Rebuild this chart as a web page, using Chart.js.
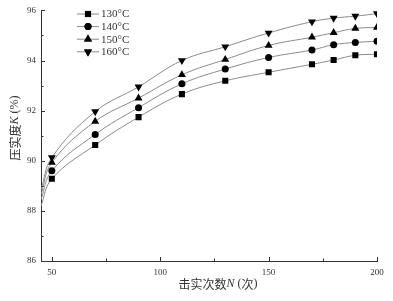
<!DOCTYPE html>
<html>
<head>
<meta charset="utf-8">
<script src="https://cdn.jsdelivr.net/npm/chart.js@4/dist/chart.umd.min.js"></script>
<style>
html,body{margin:0;padding:0;background:#fff;}
#wrap{width:393px;height:301px;}
</style>
</head>
<body>
<div id="wrap"><canvas id="c" width="393" height="301"></canvas></div>
<script>
// ---- data ----
const blows = [50, 70, 90, 110, 130, 150, 170, 180, 190, 200];
const k130 = [89.28, 90.63, 91.74, 92.66, 93.19, 93.53, 93.85, 94.02, 94.21, 94.25];
const k140 = [89.60, 91.05, 92.12, 93.07, 93.66, 94.12, 94.42, 94.63, 94.72, 94.77];
const k150 = [89.93, 91.57, 92.50, 93.43, 94.04, 94.60, 94.93, 95.11, 95.28, 95.32];
const k160 = [90.13, 91.96, 92.95, 94.00, 94.55, 95.10, 95.55, 95.69, 95.77, 95.87];
const seriesNames = ['130°C', '140°C', '150°C', '160°C'];
// fitted curves start at the left edge of the axis
const fitStartX = 45;
const fitStart = [88.2, 88.45, 88.65, 88.85];
const xTicks = [50, 100, 150, 200];
const xMinorTicks = [75, 125, 175];
const yTicks = [86, 88, 90, 92, 94, 96];
const yMinorTicks = [87, 89, 91, 93, 95];

const allSeries = [k130, k140, k150, k160];
const styles = [
  {pointStyle: 'rect', radius: 4.3, rotation: 0},
  {pointStyle: 'circle', radius: 3.5, rotation: 0},
  {pointStyle: 'triangle', radius: 4.6, rotation: 0},
  {pointStyle: 'triangle', radius: 4.6, rotation: 180}
];

const datasets = allSeries.map((vals, i) => ({
  label: seriesNames[i],
  data: [{x: fitStartX, y: fitStart[i]}].concat(blows.map((b, j) => ({x: b, y: vals[j]}))),
  borderColor: '#8a8a8a',
  borderWidth: 1,
  tension: 0.4,
  pointStyle: styles[i].pointStyle,
  pointRotation: styles[i].rotation,
  pointRadius: ctx => ctx.dataIndex === 0 ? 0 : styles[i].radius,
  pointBackgroundColor: '#000',
  pointBorderColor: '#000',
  pointBorderWidth: 0,
  order: 4 - i
}));

const TEXT = '#333';
const SERIF = '"Liberation Serif", "DejaVu Serif", serif';
const CJK = '"Noto Sans CJK SC", sans-serif';

function drawSegments(ctx, segs, cx, cy) {
  let total = 0;
  segs.forEach(s => { ctx.font = s.font; s.w = ctx.measureText(s.t).width; total += s.w; });
  let x = cx - total / 2;
  ctx.textBaseline = 'middle';
  ctx.textAlign = 'left';
  segs.forEach(s => { ctx.font = s.font; ctx.fillText(s.t, x, cy); x += s.w; });
}

const decor = {
  id: 'decor',
  afterDraw(chart) {
    const ctx = chart.ctx;
    const xs = chart.scales.x, ys = chart.scales.y;
    const area = chart.chartArea;
    ctx.save();
    ctx.strokeStyle = '#333';
    ctx.lineWidth = 1;
    // inward ticks
    ctx.beginPath();
    yTicks.forEach(v => { const y = Math.round(ys.getPixelForValue(v)) + 0.5; ctx.moveTo(area.left, y); ctx.lineTo(area.left + 4, y); });
    yMinorTicks.forEach(v => { const y = Math.round(ys.getPixelForValue(v)) + 0.5; ctx.moveTo(area.left, y); ctx.lineTo(area.left + 2.5, y); });
    xTicks.forEach(v => { const x = Math.round(xs.getPixelForValue(v)) + 0.5; ctx.moveTo(x, area.bottom); ctx.lineTo(x, area.bottom - 4); });
    xMinorTicks.forEach(v => { const x = Math.round(xs.getPixelForValue(v)) + 0.5; ctx.moveTo(x, area.bottom); ctx.lineTo(x, area.bottom - 2.5); });
    ctx.stroke();

    // legend
    ctx.fillStyle = TEXT;
    const legY0 = 14, legDy = 12.6, lx1 = 77, lx2 = 99, mx = 88;
    seriesNames.forEach((name, i) => {
      const y = legY0 + i * legDy;
      ctx.strokeStyle = '#8a8a8a';
      ctx.beginPath();
      ctx.moveTo(lx1, y); ctx.lineTo(lx2, y);
      ctx.stroke();
      ctx.fillStyle = '#000';
      Chart.helpers.drawPoint(ctx, {pointStyle: styles[i].pointStyle, rotation: styles[i].rotation, radius: styles[i].radius, borderWidth: 0}, mx, y);
      ctx.fill();
      ctx.fillStyle = TEXT;
      ctx.font = '11px ' + SERIF;
      ctx.textBaseline = 'middle';
      ctx.textAlign = 'left';
      ctx.fillText(name, lx2 + 2, y + 0.5);
    });

    // axis titles
    ctx.fillStyle = TEXT;
    drawSegments(ctx, [
      {t: '击实次数', font: '12px ' + CJK},
      {t: 'N', font: 'italic 12px ' + SERIF},
      {t: ' (', font: '12px ' + SERIF},
      {t: '次', font: '12px ' + CJK},
      {t: ')', font: '12px ' + SERIF}
    ], 218, 284);
    ctx.save();
    ctx.translate(15, 128);
    ctx.rotate(-Math.PI / 2);
    drawSegments(ctx, [
      {t: '压实度', font: '12px ' + CJK},
      {t: 'K', font: 'italic 12px ' + SERIF},
      {t: ' (%)', font: '12px ' + SERIF}
    ], 0, 0);
    ctx.restore();
    ctx.restore();
  }
};

new Chart(document.getElementById('c'), {
  type: 'line',
  data: {datasets},
  options: {
    responsive: false,
    animation: false,
    devicePixelRatio: 1,
    layout: {padding: {top: 7, right: 16, left: 0, bottom: 0}},
    plugins: {legend: {display: false}, tooltip: {enabled: false}},
    scales: {
      x: {
        type: 'linear',
        min: 45, max: 200,
        afterFit: s => { s.height = 40; },
        afterBuildTicks: s => { s.ticks = xTicks.map(v => ({value: v})); },
        grid: {display: false, drawTicks: false},
        border: {display: true, color: '#333', width: 1},
        ticks: {color: TEXT, font: {family: SERIF, size: 9}, padding: 6, maxRotation: 0, autoSkip: false}
      },
      y: {
        type: 'linear',
        min: 86, max: 96,
        afterFit: s => { s.width = 41; },
        afterBuildTicks: s => { s.ticks = yTicks.map(v => ({value: v})); },
        grid: {display: false, drawTicks: false},
        border: {display: true, color: '#333', width: 1},
        ticks: {color: TEXT, font: {family: SERIF, size: 9}, padding: 5, autoSkip: false}
      }
    }
  },
  plugins: [decor]
});
</script>
</body>
</html>
